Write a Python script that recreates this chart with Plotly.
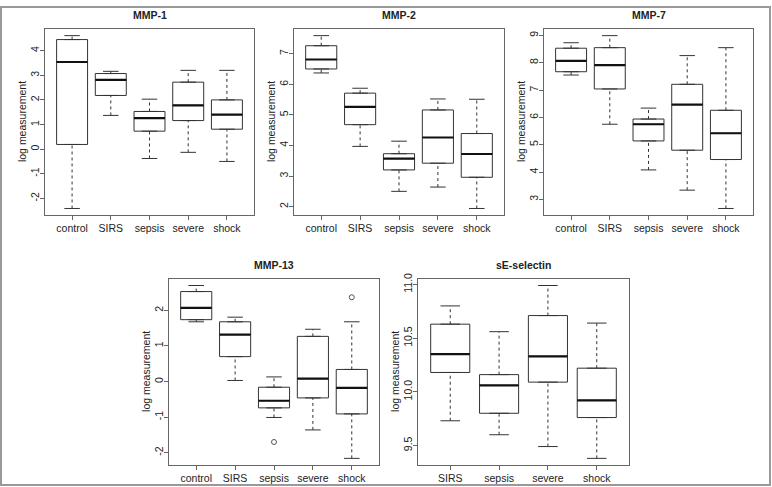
import plotly.graph_objects as go

W, H = 772, 487

groups5 = ["control", "SIRS", "sepsis", "severe", "shock"]
groups4 = ["SIRS", "sepsis", "severe", "shock"]

mmp1_low  = [-2.41, 1.37, -0.38, -0.13, -0.50]
mmp1_q1   = [0.19, 2.18, 0.73, 1.16, 0.81]
mmp1_med  = [3.54, 2.81, 1.26, 1.78, 1.40]
mmp1_q3   = [4.45, 3.07, 1.53, 2.72, 2.00]
mmp1_high = [4.61, 3.16, 2.03, 3.20, 3.20]

mmp2_low  = [6.37, 3.97, 2.50, 2.64, 1.94]
mmp2_q1   = [6.50, 4.68, 3.20, 3.42, 2.96]
mmp2_med  = [6.81, 5.26, 3.57, 4.26, 3.72]
mmp2_q3   = [7.26, 5.71, 3.73, 5.16, 4.39]
mmp2_high = [7.59, 5.87, 4.14, 5.52, 5.51]

mmp7_low  = [7.55, 5.75, 4.08, 3.34, 2.67]
mmp7_q1   = [7.67, 7.04, 5.14, 4.80, 4.46]
mmp7_med  = [8.07, 7.91, 5.75, 6.47, 5.42]
mmp7_q3   = [8.53, 8.55, 5.94, 7.21, 6.26]
mmp7_high = [8.73, 8.99, 6.34, 8.26, 8.55]

mmp13_low  = [1.68, 0.03, -1.01, -1.36, -2.16]
mmp13_q1   = [1.74, 0.70, -0.74, -0.46, -0.91]
mmp13_med  = [2.07, 1.32, -0.54, 0.08, -0.18]
mmp13_q3   = [2.53, 1.68, -0.16, 1.27, 0.34]
mmp13_high = [2.70, 1.81, 0.13, 1.47, 1.68]
mmp13_out_group = ["sepsis", "shock"]
mmp13_out_value = [-1.70, 2.37]

sel_low  = [9.73, 9.60, 9.49, 9.38]
sel_q1   = [10.18, 9.80, 10.09, 9.76]
sel_med  = [10.35, 10.06, 10.33, 9.92]
sel_q3   = [10.63, 10.16, 10.71, 10.22]
sel_high = [10.80, 10.56, 10.99, 10.64]

mmp1_ticks = [-2, -1, 0, 1, 2, 3, 4]
mmp2_ticks = [2, 3, 4, 5, 6, 7]
mmp7_ticks = [3, 4, 5, 6, 7, 8, 9]
mmp13_ticks = [-2, -1, 0, 1, 2]
sel_ticks = [9.5, 10.0, 10.5, 11.0]

FONT = "Liberation Sans, Arial, Helvetica, sans-serif"
TXT = "#222222"
LINE = "#333333"
FRAME = "#666666"

panels = [
    dict(title="MMP-1", groups=groups5, low=mmp1_low, q1=mmp1_q1, med=mmp1_med, q3=mmp1_q3, high=mmp1_high,
         out_g=[], out_v=[], ticks=mmp1_ticks, fmt="d", px=(45, 254, 23, 212)),
    dict(title="MMP-2", groups=groups5, low=mmp2_low, q1=mmp2_q1, med=mmp2_med, q3=mmp2_q3, high=mmp2_high,
         out_g=[], out_v=[], ticks=mmp2_ticks, fmt="d", px=(294, 504, 23, 212)),
    dict(title="MMP-7", groups=groups5, low=mmp7_low, q1=mmp7_q1, med=mmp7_med, q3=mmp7_q3, high=mmp7_high,
         out_g=[], out_v=[], ticks=mmp7_ticks, fmt="d", px=(544, 753, 23, 212)),
    dict(title="MMP-13", groups=groups5, low=mmp13_low, q1=mmp13_q1, med=mmp13_med, q3=mmp13_q3, high=mmp13_high,
         out_g=mmp13_out_group, out_v=mmp13_out_value, ticks=mmp13_ticks, fmt="d", px=(169, 379, 276, 465)),
    dict(title="sE-selectin", groups=groups4, low=sel_low, q1=sel_q1, med=sel_med, q3=sel_q3, high=sel_high,
         out_g=[], out_v=[], ticks=sel_ticks, fmt=".1f", px=(418, 629, 276, 465)),
]


def fx(p):
    return p / W


def fy(p):
    return 1 - p / H


fig = go.Figure()
layout = dict(
    width=W, height=H, margin=dict(l=0, r=0, t=0, b=0),
    paper_bgcolor="white", plot_bgcolor="white", showlegend=False,
    font=dict(family=FONT, size=10.5, color=TXT),
)
annotations = []

for k, p in enumerate(panels, start=1):
    xa = "x" if k == 1 else f"x{k}"
    ya = "y" if k == 1 else f"y{k}"
    n = len(p["groups"])
    pos = list(range(1, n + 1))
    # box
    fig.add_trace(go.Box(
        x=pos, q1=p["q1"], median=p["med"], q3=p["q3"],
        lowerfence=p["q1"], upperfence=p["q3"],
        width=0.8, fillcolor="white", line=dict(color=LINE, width=1),
        boxpoints=False, xaxis=xa, yaxis=ya, hoverinfo="skip",
    ))
    # whiskers (dashed)
    wx, wy = [], []
    for i in range(n):
        wx += [pos[i], pos[i], None, pos[i], pos[i], None]
        wy += [p["q3"][i], p["high"][i], None, p["low"][i], p["q1"][i], None]
    fig.add_trace(go.Scatter(x=wx, y=wy, mode="lines", xaxis=xa, yaxis=ya,
                             line=dict(color=LINE, width=1, dash="3px,3px"), hoverinfo="skip"))
    # caps
    cx, cy = [], []
    for i in range(n):
        cx += [pos[i] - 0.2, pos[i] + 0.2, None, pos[i] - 0.2, pos[i] + 0.2, None]
        cy += [p["high"][i], p["high"][i], None, p["low"][i], p["low"][i], None]
    fig.add_trace(go.Scatter(x=cx, y=cy, mode="lines", xaxis=xa, yaxis=ya,
                             line=dict(color=LINE, width=1), hoverinfo="skip"))
    # medians
    mx, my = [], []
    for i in range(n):
        mx += [pos[i] - 0.4, pos[i] + 0.4, None]
        my += [p["med"][i], p["med"][i], None]
    fig.add_trace(go.Scatter(x=mx, y=my, mode="lines", xaxis=xa, yaxis=ya,
                             line=dict(color="#111111", width=2.2), hoverinfo="skip"))
    # outliers
    if p["out_g"]:
        ox = [p["groups"].index(g) + 1 for g in p["out_g"]]
        fig.add_trace(go.Scatter(x=ox, y=p["out_v"], mode="markers", xaxis=xa, yaxis=ya,
                                 marker=dict(symbol="circle-open", size=5, color="#555555",
                                             line=dict(width=1)), hoverinfo="skip"))
    # ranges (R style: 4% extension)
    allv = p["low"] + p["high"] + p["out_v"]
    lo, hi = min(allv), max(allv)
    ext = 0.04 * (hi - lo)
    xext = 0.04 * n
    l, r, t, b = p["px"]
    key_x = "xaxis" if k == 1 else f"xaxis{k}"
    key_y = "yaxis" if k == 1 else f"yaxis{k}"
    layout[key_x] = dict(
        domain=[fx(l), fx(r)], anchor=ya, range=[0.5 - xext, n + 0.5 + xext],
        tickmode="array", tickvals=pos, ticktext=p["groups"],
        showline=True, mirror=True, linecolor=FRAME, linewidth=1.2,
        ticks="outside", ticklen=4, tickcolor=FRAME, showgrid=False, zeroline=False,
        tickfont=dict(size=10.5, color=TXT), ticklabelstandoff=-1,
    )
    layout[key_y] = dict(
        domain=[fy(b), fy(t)], anchor=xa, range=[lo - ext, hi + ext],
        tickmode="array", tickvals=p["ticks"],
        ticktext=[format(v, p["fmt"]) if p["fmt"] != "d" else str(v) for v in p["ticks"]],
        tickangle=-90,
        showline=True, mirror=True, linecolor=FRAME, linewidth=1.2,
        ticks="outside", ticklen=4, tickcolor=FRAME, showgrid=False, zeroline=False,
        tickfont=dict(size=10.5, color=TXT), ticklabelstandoff=-3,
    )
    annotations.append(dict(
        text=f"<b>{p['title']}</b>", x=fx((l + r) / 2), y=fy(t - 14), xref="paper", yref="paper",
        showarrow=False, xanchor="center", yanchor="middle", font=dict(size=10.5, color=TXT),
    ))
    annotations.append(dict(
        text="log measurement", x=fx(l - 23), y=fy((t + b) / 2), xref="paper", yref="paper",
        showarrow=False, xanchor="center", yanchor="middle", textangle=-90,
        font=dict(size=10.5, color=TXT),
    ))

layout["annotations"] = annotations
layout["shapes"] = [dict(type="rect", xref="paper", yref="paper",
                         x0=fx(1), x1=fx(770), y0=fy(485), y1=fy(1),
                         line=dict(color="#999999", width=2))]
fig.update_layout(**layout)
fig.write_html("out.html", config={"displayModeBar": False},
               post_script="document.body.style.margin='0px';document.body.style.overflow='hidden';")
